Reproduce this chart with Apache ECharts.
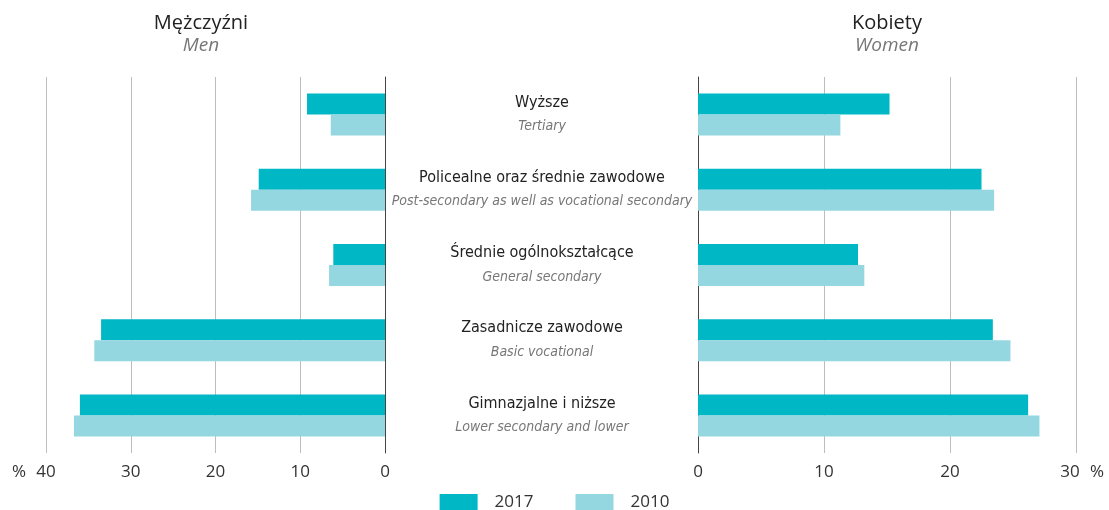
<!DOCTYPE html>
<html>
<head>
<meta charset="utf-8">
<script src="https://cdn.jsdelivr.net/npm/echarts@6/dist/echarts.min.js"></script>
<style>
  html, body { margin: 0; padding: 0; background: #fff; }
  #main { width: 1109px; height: 510px; }
</style>
</head>
<body>
<div id="main"></div>
<script>
// kategorie (od góry)
var categoriesPl = ["Wyższe", "Policealne oraz średnie zawodowe", "Średnie ogólnokształcące", "Zasadnicze zawodowe", "Gimnazjalne i niższe"];
var categoriesEn = ["Tertiary", "Post-secondary as well as vocational secondary", "General secondary", "Basic vocational", "Lower secondary and lower"];
// Mężczyźni / Men
var men2017 = [9.2, 14.9, 6.1, 33.5, 36.0];
var men2010 = [6.4, 15.8, 6.6, 34.3, 36.7];
// Kobiety / Women
var women2017 = [15.2, 22.5, 12.7, 23.4, 26.2];
var women2010 = [11.3, 23.5, 13.2, 24.8, 27.1];

var c2017 = "#00b7c6";
var c2010 = "#94d7e0";
var labelFont = "'Liberation Sans Narrow', 'DejaVu Sans Condensed', 'Noto Sans', sans-serif";
var axisFont = "'Open Sans', 'Noto Sans', sans-serif";

var myChart = echarts.init(document.getElementById("main"));

var cats = categoriesPl.map(function (p, i) { return p + "\n" + categoriesEn[i]; });

var option = {
  animation: false,
  title: [
    {
      text: "Mężczyźni", subtext: "Men",
      left: 196, top: 8, textAlign: "center", itemGap: 3,
      textStyle: { fontFamily: axisFont, fontSize: 20, fontWeight: "normal", color: "#222" },
      subtextStyle: { fontFamily: axisFont, fontSize: 19, fontStyle: "italic", color: "#777" }
    },
    {
      text: "Kobiety", subtext: "Women",
      left: 882, top: 8, textAlign: "center", itemGap: 3,
      textStyle: { fontFamily: axisFont, fontSize: 20, fontWeight: "normal", color: "#222" },
      subtextStyle: { fontFamily: axisFont, fontSize: 19, fontStyle: "italic", color: "#777" }
    }
  ],
  legend: {
    top: 489,
    left: "center",
    itemWidth: 38,
    itemHeight: 17,
    itemGap: 42,
    icon: "rect",
    data: ["2017", "2010"],
    textStyle: { fontFamily: axisFont, fontSize: 17, color: "#333", padding: [0, 0, 0, 12] }
  },
  grid: [
    { left: 46, right: 724, top: 77, bottom: 57 },
    { left: 698, right: 33, top: 77, bottom: 57 }
  ],
  xAxis: [
    {
      gridIndex: 0, type: "value", inverse: true, min: 0, max: 40, interval: 10,
      name: "%", nameLocation: "end", nameGap: 20,
      nameTextStyle: { fontFamily: axisFont, fontSize: 17, color: "#333", verticalAlign: "top", padding: [11, 0, 0, 0] },
      axisLine: { show: false }, axisTick: { show: false },
      axisLabel: { margin: 11, fontFamily: axisFont, fontSize: 17, color: "#333" },
      splitLine: { show: true, lineStyle: { color: "#bdbdbd", width: 1 } }
    },
    {
      gridIndex: 1, type: "value", min: 0, max: 30, interval: 10,
      name: "%", nameLocation: "end", nameGap: 14,
      nameTextStyle: { fontFamily: axisFont, fontSize: 17, color: "#333", verticalAlign: "top", padding: [11, 0, 0, 0] },
      axisLine: { show: false }, axisTick: { show: false },
      axisLabel: {
        margin: 11, fontFamily: axisFont, fontSize: 17, color: "#333",
        formatter: function (v) { return v === 30 ? "{l|30}" : String(v); },
        rich: { l: { fontFamily: axisFont, fontSize: 17, color: "#333", padding: [0, 12, 0, 0] } }
      },
      splitLine: { show: true, lineStyle: { color: "#bdbdbd", width: 1 } }
    }
  ],
  yAxis: [
    {
      gridIndex: 0, type: "category", position: "right", inverse: true, data: cats,
      axisLine: { show: true, lineStyle: { color: "#444", width: 1 } },
      axisTick: { show: false }, axisLabel: { show: false }
    },
    {
      gridIndex: 1, type: "category", position: "left", inverse: true, data: cats,
      axisLine: { show: true, lineStyle: { color: "#444", width: 1 } },
      axisTick: { show: false },
      axisLabel: {
        margin: 156, align: "center",
        formatter: function (v) {
          var parts = v.split("\n");
          return "{pl|" + parts[0] + "}\n{en|" + parts[1] + "}";
        },
        rich: {
          pl: { fontFamily: labelFont, fontSize: 16, color: "#222", lineHeight: 24, align: "center" },
          en: { fontFamily: labelFont, fontSize: 14, fontStyle: "italic", color: "#777", lineHeight: 24, align: "center" }
        }
      }
    }
  ],
  series: [
    { name: "2017", type: "bar", xAxisIndex: 0, yAxisIndex: 0, data: men2017, barWidth: 21, barGap: "0%", itemStyle: { color: c2017 } },
    { name: "2010", type: "bar", xAxisIndex: 0, yAxisIndex: 0, data: men2010, barWidth: 21, barGap: "0%", itemStyle: { color: c2010 } },
    { name: "2017", type: "bar", xAxisIndex: 1, yAxisIndex: 1, data: women2017, barWidth: 21, barGap: "0%", itemStyle: { color: c2017 } },
    { name: "2010", type: "bar", xAxisIndex: 1, yAxisIndex: 1, data: women2010, barWidth: 21, barGap: "0%", itemStyle: { color: c2010 } }
  ]
};

myChart.setOption(option);
window.addEventListener("resize", function () {
  myChart.resize();
});
</script>
</body>
</html>
